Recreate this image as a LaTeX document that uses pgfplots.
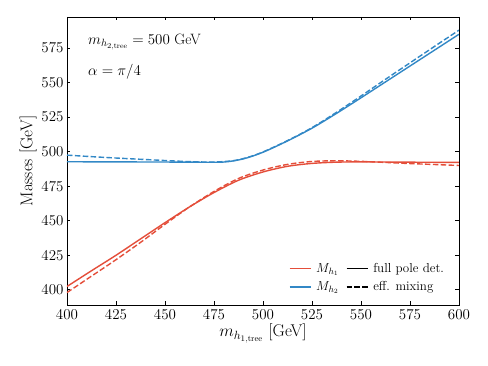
\documentclass[border=0pt]{standalone}
\usepackage{fix-cm}
\usepackage{fontspec}
\usepackage{pgfplots}
\pgfplotsset{compat=1.18}
\definecolor{cred}{RGB}{228,78,58}
\definecolor{cblue}{RGB}{50,136,198}
\begin{document}
\begin{tikzpicture}
\begin{axis}[
  scale only axis, width=392pt, height=288pt,
  xmin=400, xmax=600, ymin=389, ymax=597.5,
  xtick={400,425,...,600}, ytick={400,425,...,575},
  tick align=inside, major tick length=3.5pt,
  xtick pos=both, ytick pos=both,
  axis line style={line width=0.8pt}, every tick/.style={line width=0.8pt, black},
  tick label style={font=\fontsize{15}{17}\selectfont},
  xticklabel style={yshift=-1pt},
  label style={font=\fontsize{17}{20}\selectfont},
  xlabel={$m_{h_{1,\mathrm{tree}}}$ [GeV]},
  ylabel={Masses [GeV]},
  xlabel style={yshift=2pt},
  ylabel style={yshift=-2pt},
  legend columns=2,
  legend image code/.code={\draw[#1] (0pt,0pt) -- (21pt,0pt);},
  legend style={draw=none, fill=none, at={(0.975,0.03)}, anchor=south east,
     font=\fontsize{13}{15}\selectfont, row sep=3.6pt,
     /tikz/every even column/.append style={column sep=5pt},
     /tikz/every odd column/.append style={column sep=3pt}},
  legend cell align=left,
]
% red solid
\addplot[cred, line width=1.4pt, smooth, forget plot] coordinates {
(400,402.4)(412.5,413.8)(425,425.0)(437.5,436.8)(450,448.6)(462.5,460.0)(475,470.4)
(487.5,479.3)(500,485.3)(512.5,489.4)(525,491.5)(537.5,492.4)(550,492.6)(562.5,492.5)(575,492.4)(587.5,492.3)(600,492.2)};
% red dashed
\addplot[cred, line width=1.4pt, smooth, dash pattern=on 5.5pt off 2.4pt, forget plot] coordinates {
(400,398.0)(412.5,409.9)(425,421.8)(437.5,434.3)(450,447.4)(462.5,460.0)(475,471.2)
(487.5,480.6)(500,486.7)(512.5,490.8)(525,492.9)(537.5,493.4)(550,493.0)(562.5,492.2)(575,491.4)(587.5,490.7)(600,490.0)};
% blue solid
\addplot[cblue, line width=1.4pt, smooth, forget plot] coordinates {
(400,492.7)(425,492.6)(450,492.5)(465,492.4)(480,492.5)(490,494.8)(500,499.6)
(512.5,507.8)(525,517.0)(537.5,527.7)(550,539.0)(562.5,550.5)(575,562.0)(587.5,573.5)(600,585.0)};
% blue dashed
\addplot[cblue, line width=1.4pt, smooth, dash pattern=on 5.5pt off 2.4pt, forget plot] coordinates {
(400,497.5)(412.5,496.4)(425,495.4)(437.5,494.5)(450,493.6)(462.5,492.8)(475,492.5)(485,493.5)(492.5,496.0)(500,499.8)
(512.5,508.0)(525,517.4)(537.5,528.5)(550,540.3)(562.5,552.4)(575,564.3)(587.5,576.2)(600,588.0)};
\addlegendimage{cred, line width=1.4pt}
\addlegendentry{$M_{h_1}$}
\addlegendimage{black, line width=1.4pt}
\addlegendentry{full pole det.}
\addlegendimage{cblue, line width=1.4pt}
\addlegendentry{$M_{h_2}$}
\addlegendimage{black, line width=1.4pt, dash pattern=on 5.5pt off 2.4pt}
\addlegendentry{eff. mixing}
\node[anchor=west, font=\fontsize{15}{18}\selectfont] at (rel axis cs:0.045,0.913) {$m_{h_{2,\mathrm{tree}}} = 500$ GeV};
\node[anchor=west, font=\fontsize{15}{18}\selectfont] at (rel axis cs:0.045,0.81) {$\alpha = \pi/4$};
\end{axis}
\pgfresetboundingbox
\path (current axis.south west) ++(-67pt,-61pt) coordinate (bl);
\path (current axis.north east) ++(29pt,17pt) coordinate (tr);
\path (bl) rectangle (tr);
\end{tikzpicture}
\end{document}
